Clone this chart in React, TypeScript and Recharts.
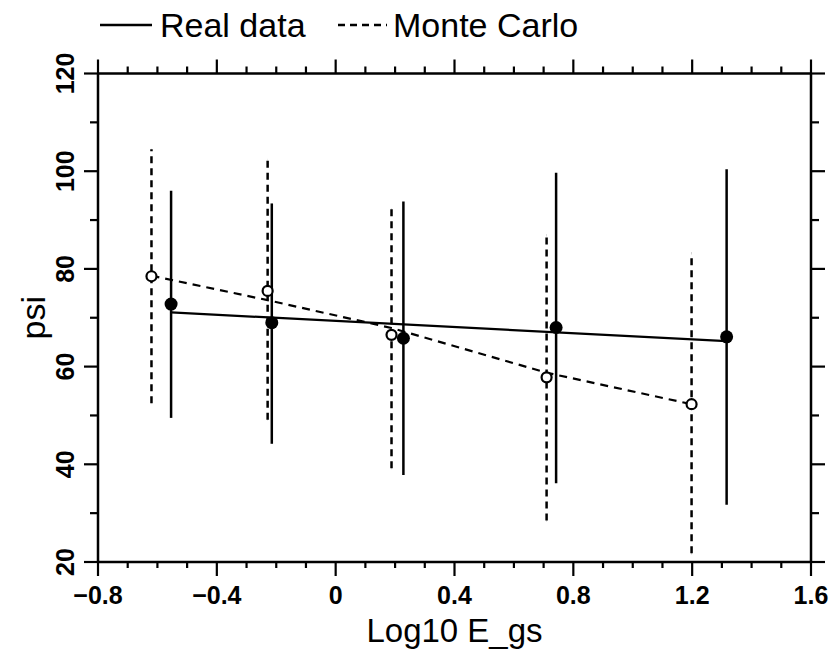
import { ComposedChart, Scatter, XAxis, YAxis, ErrorBar, Legend } from 'recharts'

// measured points (Log10 E_gs vs psi)
const realX = [-0.554, -0.215, 0.228, 0.742, 1.316]
const realY = [72.8, 69.0, 65.8, 68.0, 66.1]
const realLow = [49.5, 44.2, 37.8, 36.1, 31.7]
const realHigh = [96.0, 93.4, 93.8, 99.7, 100.4]

// monte carlo points
const mcX = [-0.62, -0.229, 0.188, 0.71, 1.198]
const mcY = [78.5, 75.5, 66.5, 57.8, 52.3]
const mcLow = [52.5, 49.1, 39.2, 28.5, 21.8]
const mcHigh = [104.5, 102.3, 92.2, 86.9, 83.2]

// fitted curves
const realFitX = [-0.554, 1.316]
const realFitY = [71.1, 65.2]
const mcFitX = [-0.62, -0.229, 0.188, 0.71, 1.198]
const mcFitY = [78.6, 73.6, 67.9, 58.75, 52.3]

const xTicks = [-0.8, -0.7, -0.6, -0.5, -0.4, -0.3, -0.2, -0.1, 0, 0.1, 0.2, 0.3, 0.4, 0.5, 0.6, 0.7, 0.8, 0.9, 1.0, 1.1, 1.2, 1.3, 1.4, 1.5, 1.6]
const xMajor = [-0.8, -0.4, 0, 0.4, 0.8, 1.2, 1.6]
const xLabels = ['−0.8', '−0.4', '0', '0.4', '0.8', '1.2', '1.6']
const yTicks = [20, 30, 40, 50, 60, 70, 80, 90, 100, 110, 120]
const yMajor = [20, 40, 60, 80, 100, 120]
const yLabels = ['20', '40', '60', '80', '100', '120']

const realData = realX.map((x, i) => ({ x, y: realY[i], err: [realY[i] - realLow[i], realHigh[i] - realY[i]] }))
const mcData = mcX.map((x, i) => ({ x, y: mcY[i], err: [mcY[i] - mcLow[i], mcHigh[i] - mcY[i]] }))
const realFit = realFitX.map((x, i) => ({ x, y: realFitY[i] }))
const mcFit = mcFitX.map((x, i) => ({ x, y: mcFitY[i] }))

const FONT = '"Liberation Sans", Arial, sans-serif'
const AXIS = { stroke: '#000', strokeWidth: 2.5 }

const BottomTick = ({ x, y, payload }: any) => {
  const i = xMajor.indexOf(payload.value)
  const len = i >= 0 ? 14 : 6
  return (
    <g>
      <line x1={x} x2={x} y1={y} y2={y + len} stroke="#000" strokeWidth={2.2} />
      {i >= 0 && (
        <text x={x} y={y + 33} textAnchor="middle" dominantBaseline="central" fontSize={25} fontWeight="bold" fontFamily={FONT} fill="#000">
          {xLabels[i]}
        </text>
      )}
    </g>
  )
}

const TopTick = ({ x, y, payload }: any) => {
  const len = xMajor.indexOf(payload.value) >= 0 ? 14 : 7
  return <line x1={x} x2={x} y1={y} y2={y - len} stroke="#000" strokeWidth={2.2} />
}

const LeftTick = ({ x, y, payload }: any) => {
  const i = yMajor.indexOf(payload.value)
  const len = i >= 0 ? 14 : 8
  return (
    <g>
      <line x1={x} x2={x - len} y1={y} y2={y} stroke="#000" strokeWidth={2.2} />
      {i >= 0 && (
        <text x={x - 33} y={y} transform={`rotate(-90, ${x - 33}, ${y})`} textAnchor="middle" dominantBaseline="central" fontSize={25} fontWeight="bold" fontFamily={FONT} fill="#000">
          {yLabels[i]}
        </text>
      )}
    </g>
  )
}

const RightTick = ({ x, y, payload }: any) => {
  const len = yMajor.indexOf(payload.value) >= 0 ? 14 : 8
  return <line x1={x} x2={x + len} y1={y} y2={y} stroke="#000" strokeWidth={2.2} />
}

const LegendContent = () => (
  <div style={{ position: 'relative', width: 837, height: 50, fontFamily: FONT, fontSize: 34, color: '#000' }}>
    <svg style={{ position: 'absolute', left: 100, top: 0 }} width={52} height={50}>
      <line x1={0} x2={52} y1={25} y2={25} stroke="#000" strokeWidth={2.5} />
    </svg>
    <span style={{ position: 'absolute', left: 160, top: 5, lineHeight: '40px' }}>Real data</span>
    <svg style={{ position: 'absolute', left: 338, top: 0 }} width={49} height={50}>
      <line x1={0} x2={49} y1={25} y2={25} stroke="#000" strokeWidth={2.5} strokeDasharray="7 5" />
    </svg>
    <span style={{ position: 'absolute', left: 393, top: 5, lineHeight: '40px' }}>Monte Carlo</span>
  </div>
)

const RealDot = ({ cx, cy }: any) => <circle cx={cx} cy={cy} r={6.5} fill="#000" />
const McDot = ({ cx, cy }: any) => <circle cx={cx} cy={cy} r={5} fill="#fff" stroke="#000" strokeWidth={2.2} />
const NoDot = () => <g />

export default function App() {
  return (
    <div style={{ position: 'absolute', left: 0, top: 0, background: '#fff' }}>
      <ComposedChart width={837} height={658} margin={{ top: 72.5, right: 25, bottom: 95, left: 97 }}>
        <XAxis
          type="number"
          dataKey="x"
          domain={[-0.8, 1.6]}
          ticks={xTicks}
          interval={0}
          tickSize={0}
          tickMargin={0}
          tick={<BottomTick />}
          height={1}
          axisLine={AXIS}
          allowDataOverflow
          label={{
            value: 'Log10 E_gs',
            content: ({ viewBox }: any) => (
              <text x={viewBox.x + viewBox.width / 2} y={viewBox.y + 80} textAnchor="middle" fontSize={33} fontFamily={FONT} fill="#000">
                Log10 E_gs
              </text>
            ),
          }}
        />
        <XAxis
          xAxisId="top"
          orientation="top"
          type="number"
          dataKey="x"
          domain={[-0.8, 1.6]}
          ticks={xTicks}
          interval={0}
          tickSize={0}
          tickMargin={0}
          tick={<TopTick />}
          height={1}
          axisLine={AXIS}
          allowDataOverflow
        />
        <YAxis
          type="number"
          dataKey="y"
          domain={[20, 120]}
          ticks={yTicks}
          interval={0}
          tickSize={0}
          tickMargin={0}
          tick={<LeftTick />}
          width={1}
          axisLine={AXIS}
          allowDataOverflow
          label={{
            value: 'psi',
            content: ({ viewBox }: any) => {
              const cx = viewBox.x - 64
              const cy = viewBox.y + viewBox.height / 2
              return (
                <text x={cx} y={cy} transform={`rotate(-90, ${cx}, ${cy})`} textAnchor="middle" dominantBaseline="central" fontSize={34} fontFamily={FONT} fill="#000">
                  psi
                </text>
              )
            },
          }}
        />
        <YAxis
          yAxisId="right"
          orientation="right"
          type="number"
          dataKey="y"
          domain={[20, 120]}
          ticks={yTicks}
          interval={0}
          tickSize={0}
          tickMargin={0}
          tick={<RightTick />}
          width={1}
          axisLine={AXIS}
          allowDataOverflow
        />
        <Legend layout="horizontal" verticalAlign="middle" align="center" wrapperStyle={{ top: 0, left: 0, width: 837, height: 50 }} content={LegendContent} />
        <Scatter data={realFit} fill="#000" shape={NoDot} line={{ stroke: '#000', strokeWidth: 2.2 }} isAnimationActive={false} legendType="none" />
        <Scatter data={mcFit} fill="#000" shape={NoDot} line={{ stroke: '#000', strokeWidth: 2.2, strokeDasharray: '8 6' }} isAnimationActive={false} legendType="none" />
        <Scatter data={mcData} fill="#fff" shape={McDot} isAnimationActive={false}>
          <ErrorBar dataKey="err" direction="y" width={0} stroke="#000" strokeWidth={2.5} strokeDasharray="7 5" isAnimationActive={false} />
        </Scatter>
        <Scatter data={realData} fill="#000" shape={RealDot} isAnimationActive={false}>
          <ErrorBar dataKey="err" direction="y" width={0} stroke="#000" strokeWidth={2.5} isAnimationActive={false} />
        </Scatter>
      </ComposedChart>
    </div>
  )
}
